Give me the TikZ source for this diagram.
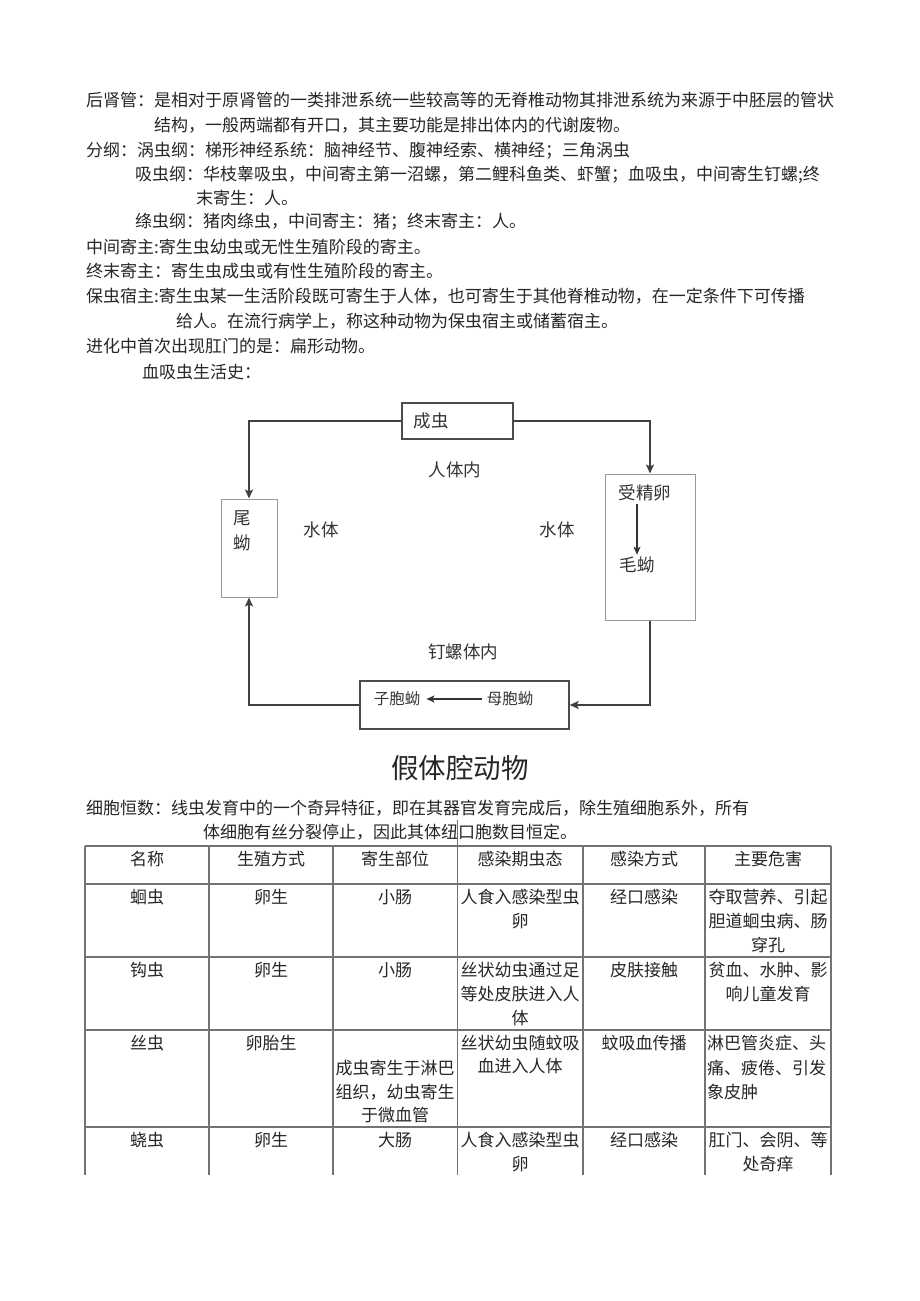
\documentclass[tikz,border=0pt]{standalone}
\usepackage{fontspec}
\newfontfamily\cjk{Noto Sans CJK SC}
\usetikzlibrary{arrows.meta}
\begin{document}
\begin{tikzpicture}[x=1pt,y=-1pt,
  tx/.style={anchor=west,inner sep=0pt,font=\cjk\fontsize{17}{17}\selectfont,text=black!85},
  tc/.style={anchor=center,inner sep=0pt,font=\cjk\fontsize{17}{17}\selectfont,text=black!85},
  lbl/.style={anchor=center,inner sep=0pt,font=\cjk\fontsize{17.5}{17.5}\selectfont,text=black!80},
  lbls/.style={anchor=center,inner sep=0pt,font=\cjk\fontsize{15.5}{15.5}\selectfont,text=black!80},
  darkbox/.style={draw=black!70,line width=1.5pt,inner sep=0pt},
  lightbox/.style={draw=black!40,line width=1pt,inner sep=0pt},
  arr/.style={draw=black!75,line width=1.8pt,-{Stealth[length=9pt,width=8pt,inset=2pt]}},
  arrthin/.style={draw=black!80,line width=1.3pt,-{Stealth[length=8pt,width=7pt,inset=2pt]}},
  tbl/.style={draw=black!55,line width=1.3pt}
]
\useasboundingbox (0,0) rectangle (920,1301);
\fill[white] (0,0) rectangle (920,1301);

% ---- body text ----
\node[tx] (l1) at (86,100) {后肾管：是相对于原肾管的一类排泄系统一些较高等的无脊椎动物其排泄系统为来源于中胚层的管状};
\node[tx] (l2) at (154,125) {结构，一般两端都有开口，其主要功能是排出体内的代谢废物。};
\node[tx] (l3) at (86,151) {分纲：涡虫纲：梯形神经系统：脑神经节、腹神经索、横神经；三角涡虫};
\node[tx] (l4) at (135,175) {吸虫纲：华枝睾吸虫，中间寄主第一沼螺，第二鲤科鱼类、虾蟹；血吸虫，中间寄生钉螺;终};
\node[tx] (l5) at (196,198) {末寄生：人。};
\node[tx] (l6) at (135,222) {绦虫纲：猪肉绦虫，中间寄主：猪；终末寄主：人。};
\node[tx] (l7) at (86,247) {中间寄主:寄生虫幼虫或无性生殖阶段的寄主。};
\node[tx] (l8) at (86,271) {终末寄主：寄生虫成虫或有性生殖阶段的寄主。};
\node[tx] (l9) at (86,296) {保虫宿主:寄生虫某一生活阶段既可寄生于人体，也可寄生于其他脊椎动物，在一定条件下可传播};
\node[tx] (l10) at (176,321) {给人。在流行病学上，称这种动物为保虫宿主或储蓄宿主。};
\node[tx] (l11) at (86,346) {进化中首次出现肛门的是：扁形动物。};
\node[tx] (l12) at (142,372) {血吸虫生活史：};

% ---- life cycle diagram ----
\node[darkbox,minimum width=111pt,minimum height=36pt] (adult) at (457.5,421) {};
\node[lbl] (adultT) at (431,421) {成虫};
\node[lightbox,minimum width=56pt,minimum height=98pt] (cerc) at (249,548) {};
\node[lbl] (cercA) at (242,518) {尾};
\node[lbl] (cercB) at (242,543) {蚴};
\node[lightbox,minimum width=90pt,minimum height=146pt] (egg) at (650,547) {};
\node[lbl] (eggT) at (645,493) {受精卵};
\node[lbl] (mira) at (637,565) {毛蚴};
\node[darkbox,minimum width=209pt,minimum height=48pt] (spor) at (464.5,705) {};
\node[lbls] (daughter) at (397,699) {子胞蚴};
\node[lbls] (mother) at (510,699) {母胞蚴};

\node[lbl] (inbody) at (455,470) {人体内};
\node[lbl] (water1) at (321,530) {水体};
\node[lbl] (water2) at (557,530) {水体};
\node[lbl] (snail) at (463,652) {钉螺体内};

\draw[arr] (adult.west) -| (cerc.north);
\draw[arr] (adult.east) -| (egg.north);
\draw[arr] (egg.south) |- (spor.east);
\draw[arr] (spor.west) -| (cerc.south);
\draw[arrthin,shorten <=3pt,shorten >=2pt] (mira.north |- eggT.south) -- (mira.north);
\draw[arrthin,shorten <=5pt,shorten >=6pt] (mother.west) -- (daughter.east);

% ---- title and paragraph ----
\node[anchor=center,inner sep=0pt,font=\cjk\fontsize{27.5}{27.5}\selectfont,text=black!85] (title) at (460,768) {假体腔动物};
\node[tx] (c1) at (86,808) {细胞恒数：线虫发育中的一个奇异特征，即在其器官发育完成后，除生殖细胞系外，所有};
\node[tx] (c2) at (203,832) {体细胞有丝分裂停止，因此其体纽口胞数目恒定。};

% ---- table ----
\foreach \yy in {846,884,957,1030,1127} \draw[tbl] (85,\yy) -- (831,\yy);
\foreach \xx in {85,209,333,583,705,831} \draw[tbl] (\xx,846) -- (\xx,1175);
\draw[tbl] (457.5,820) -- (457.5,1175);

% header
\node[tc] (h1) at (147,859) {名称};
\node[tc] (h2) at (271,859) {生殖方式};
\node[tc] (h3) at (395,859) {寄生部位};
\node[tc] (h4) at (520,859) {感染期虫态};
\node[tc] (h5) at (644,859) {感染方式};
\node[tc] (h6) at (768,859) {主要危害};
% row 1
\node[tc] (a1) at (147,897) {蛔虫};
\node[tc] (a2) at (271,897) {卵生};
\node[tc] (a3) at (395,897) {小肠};
\node[tc] (a4) at (520,897) {人食入感染型虫};
\node[tc] (a4b) at (520,921) {卵};
\node[tc] (a5) at (644,897) {经口感染};
\node[tc] (a6) at (768,897) {夺取营养、引起};
\node[tc] (a6b) at (768,921) {胆道蛔虫病、肠};
\node[tc] (a6c) at (768,945) {穿孔};
% row 2
\node[tc] (b1) at (147,970) {钩虫};
\node[tc] (b2) at (271,970) {卵生};
\node[tc] (b3) at (395,970) {小肠};
\node[tc] (b4) at (520,970) {丝状幼虫通过足};
\node[tc] (b4b) at (520,994) {等处皮肤进入人};
\node[tc] (b4c) at (520,1018) {体};
\node[tc] (b5) at (644,970) {皮肤接触};
\node[tc] (b6) at (768,970) {贫血、水肿、影};
\node[tc] (b6b) at (768,994) {响儿童发育};
% row 3
\node[tc] (d1) at (147,1043) {丝虫};
\node[tc] (d2) at (271,1043) {卵胎生};
\node[tc] (d3) at (395,1068) {成虫寄生于淋巴};
\node[tc] (d3b) at (395,1092) {组织，幼虫寄生};
\node[tc] (d3c) at (395,1115) {于微血管};
\node[tc] (d4) at (520,1043) {丝状幼虫随蚊吸};
\node[tc] (d4b) at (520,1066) {血进入人体};
\node[tc] (d5) at (644,1043) {蚊吸血传播};
\node[tx] (d6) at (707,1043) {淋巴管炎症、头};
\node[tx] (d6b) at (707,1068) {痛、疲倦、引发};
\node[tx] (d6c) at (707,1092) {象皮肿};
% row 4
\node[tc] (e1) at (147,1140) {蛲虫};
\node[tc] (e2) at (271,1140) {卵生};
\node[tc] (e3) at (395,1140) {大肠};
\node[tc] (e4) at (520,1140) {人食入感染型虫};
\node[tc] (e4b) at (520,1164) {卵};
\node[tc] (e5) at (644,1140) {经口感染};
\node[tc] (e6) at (768,1140) {肛门、会阴、等};
\node[tc] (e6b) at (768,1164) {处奇痒};
\end{tikzpicture}
\end{document}
